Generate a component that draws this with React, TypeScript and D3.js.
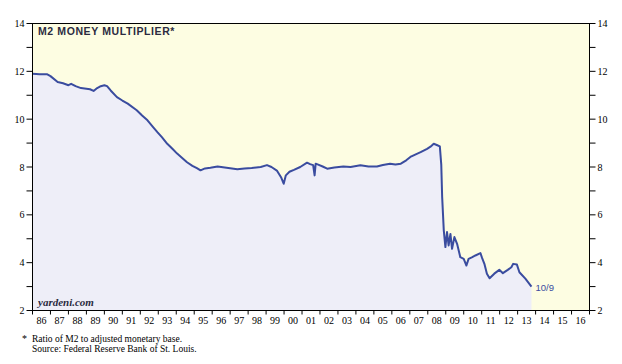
import { useEffect, useRef } from "react";
import * as d3 from "d3";

// decimal years (weekly series)
const dates = [
  1986.0, 1986.4, 1986.8, 1987.0, 1987.4, 1987.7, 1988.0, 1988.15, 1988.4, 1988.7,
  1988.9, 1989.2, 1989.4, 1989.6, 1989.8, 1990.0, 1990.15, 1990.35, 1990.7, 1991.0,
  1991.3, 1991.8, 1992.1, 1992.4, 1992.7, 1992.95, 1993.2, 1993.5, 1993.8, 1994.05,
  1994.3, 1994.6, 1994.9, 1995.15, 1995.35, 1995.6, 1995.9, 1996.3, 1996.7, 1997.0,
  1997.4, 1997.8, 1998.2, 1998.7, 1999.05, 1999.3, 1999.6, 1999.85, 1999.98, 2000.1,
  2000.3, 2000.55, 2000.9, 2001.28, 2001.45, 2001.62, 2001.7, 2001.76, 2001.9, 2002.15,
  2002.4, 2002.8, 2003.3, 2003.7, 2004.25, 2004.7, 2005.17, 2005.5, 2005.9, 2006.2,
  2006.5, 2006.8, 2007.03, 2007.3, 2007.6, 2007.96, 2008.15, 2008.33, 2008.5, 2008.67,
  2008.75, 2008.8, 2008.89, 2008.98, 2009.07, 2009.16, 2009.26, 2009.35, 2009.48, 2009.63,
  2009.81, 2010.0, 2010.15, 2010.27, 2010.45, 2010.65, 2010.93, 2011.02, 2011.15, 2011.29,
  2011.44, 2011.7, 2011.98, 2012.18, 2012.45, 2012.65, 2012.75, 2012.96, 2013.1, 2013.43,
  2013.77,
];

const multiplier = [
  11.9, 11.88, 11.88, 11.8, 11.55, 11.5, 11.42, 11.48, 11.38, 11.3,
  11.28, 11.25, 11.18, 11.3, 11.38, 11.42, 11.38, 11.2, 10.92, 10.78,
  10.65, 10.37, 10.15, 9.95, 9.68, 9.46, 9.25, 8.97, 8.75, 8.56,
  8.4, 8.2, 8.05, 7.95, 7.86, 7.94, 7.97, 8.02, 7.98, 7.95,
  7.91, 7.94, 7.96, 8.0, 8.08, 8.0, 7.85, 7.55, 7.3, 7.65,
  7.8, 7.88, 8.0, 8.18, 8.12, 8.08, 7.65, 8.14, 8.1, 8.02,
  7.93, 7.98, 8.02, 8.0, 8.07, 8.02, 8.02, 8.08, 8.14, 8.1,
  8.14, 8.28, 8.42, 8.52, 8.62, 8.76, 8.85, 8.97, 8.92, 8.86,
  8.1, 6.74, 5.35, 4.65, 5.28, 4.72, 5.2, 4.58, 5.07, 4.79,
  4.23, 4.16, 3.88, 4.16, 4.22, 4.3, 4.4, 4.2, 3.95, 3.54,
  3.35, 3.54, 3.7, 3.56, 3.7, 3.81, 3.95, 3.92, 3.6, 3.33,
  3.0,
];

const years = d3.range(1986, 2017);
const yearLabels = years.map((y) => String(y).slice(2));
const yTicks = [2, 4, 6, 8, 10, 12, 14];
const yMinor = [3, 5, 7, 9, 11, 13];
const lastLabel = "10/9";
const title = "M2 MONEY MULTIPLIER*";
const notes = ["Ratio of M2 to adjusted monetary base.", "Source: Federal Reserve Bank of St. Louis."];

export default function App() {
  const svgRef = useRef<SVGSVGElement>(null);

  useEffect(() => {
    if (!svgRef.current) return;
    const svg = d3.select(svgRef.current);
    svg.selectAll("*").remove();

    const left = 32.5;
    const right = 589.5;
    const top = 23.5;
    const bottom = 310.5;
    const serif = "'Liberation Serif', 'Times New Roman', serif";
    const sans = "'Liberation Sans', Arial, sans-serif";

    const x = d3.scaleLinear().domain([1986, 2017]).range([left, right]);
    const y = d3.scaleLinear().domain([2, 14]).range([bottom, top]);

    const data = dates.map((d, i) => ({ t: d, v: multiplier[i] }));

    // plot background
    svg
      .append("rect")
      .attr("x", left)
      .attr("y", top)
      .attr("width", right - left)
      .attr("height", bottom - top)
      .attr("fill", "#fdfde2");

    // shaded area under the line
    svg
      .append("path")
      .datum(data)
      .attr("fill", "#eeeef8")
      .attr(
        "d",
        d3
          .area<{ t: number; v: number }>()
          .x((d) => x(d.t))
          .y0(bottom)
          .y1((d) => y(d.v))
      );

    // line
    svg
      .append("path")
      .datum(data)
      .attr("fill", "none")
      .attr("stroke", "#3a4c9f")
      .attr("stroke-width", 2)
      .attr("stroke-linejoin", "round")
      .attr(
        "d",
        d3
          .line<{ t: number; v: number }>()
          .x((d) => x(d.t))
          .y((d) => y(d.v))
      );

    // frame
    svg
      .append("rect")
      .attr("x", left)
      .attr("y", top)
      .attr("width", right - left)
      .attr("height", bottom - top)
      .attr("fill", "none")
      .attr("stroke", "#000")
      .attr("stroke-width", 1);

    // y ticks, both sides
    const g = svg.append("g").attr("stroke", "#000").attr("stroke-width", 1);
    [...yTicks, ...yMinor].forEach((v) => {
      g.append("line").attr("x1", left - 6).attr("x2", left).attr("y1", y(v)).attr("y2", y(v));
      g.append("line").attr("x1", right).attr("x2", right + 6).attr("y1", y(v)).attr("y2", y(v));
    });
    yTicks.forEach((v) => {
      svg
        .append("text")
        .attr("x", left - 8)
        .attr("y", y(v) + 3.5)
        .attr("text-anchor", "end")
        .attr("font-family", serif)
        .attr("font-size", 10)
        .text(v);
      svg
        .append("text")
        .attr("x", right + 8)
        .attr("y", y(v) + 3.5)
        .attr("font-family", serif)
        .attr("font-size", 10)
        .text(v);
    });

    // x ticks at year boundaries, labels mid-year
    [...years, 2017].forEach((yr) => {
      g.append("line").attr("x1", x(yr)).attr("x2", x(yr)).attr("y1", bottom).attr("y2", bottom + 4);
    });
    years.forEach((yr, i) => {
      svg
        .append("text")
        .attr("x", x(yr + 0.5))
        .attr("y", bottom + 13)
        .attr("text-anchor", "middle")
        .attr("font-family", serif)
        .attr("font-size", 10)
        .text(yearLabels[i]);
    });

    // title
    svg
      .append("text")
      .attr("x", 38)
      .attr("y", 35)
      .attr("font-family", sans)
      .attr("font-weight", "bold")
      .attr("font-size", 10.5)
      .attr("letter-spacing", 0.6)
      .attr("fill", "#2b2b3f")
      .text(title);

    // watermark
    svg
      .append("text")
      .attr("x", 38)
      .attr("y", 306)
      .attr("font-family", serif)
      .attr("font-style", "italic")
      .attr("font-weight", "bold")
      .attr("font-size", 11)
      .attr("fill", "#2b2b3f")
      .text("yardeni.com");

    // last value label
    const last = data[data.length - 1];
    svg
      .append("text")
      .attr("x", x(last.t) + 4)
      .attr("y", y(last.v) + 4)
      .attr("font-family", sans)
      .attr("font-size", 9.5)
      .attr("fill", "#3a4c9f")
      .text(lastLabel);

    // footnotes
    svg
      .append("text")
      .attr("x", 22)
      .attr("y", 342)
      .attr("font-family", serif)
      .attr("font-size", 10)
      .text("*");
    notes.forEach((n, i) => {
      svg
        .append("text")
        .attr("x", 32)
        .attr("y", 342 + i * 10)
        .attr("font-family", serif)
        .attr("font-size", 9.5)
        .text(n);
    });
  }, []);

  return (
    <svg
      ref={svgRef}
      width={622}
      height={364}
      style={{ position: "absolute", left: 0, top: 0, background: "#fff" }}
    />
  );
}
